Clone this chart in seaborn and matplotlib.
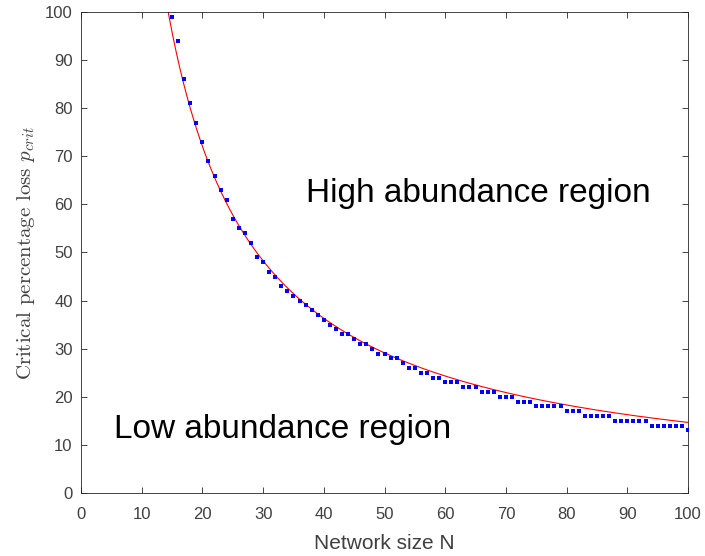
import numpy as np
import pandas as pd
import seaborn as sns
import matplotlib.pyplot as plt

# network size N and critical percentage loss
net_size = np.arange(15, 101)
p_crit = [99, 94, 86, 81, 77, 73, 69, 66, 63, 61, 57, 55, 54, 52,
          49, 48, 46, 45, 43, 42, 41, 40, 39, 38, 37, 36, 35, 34, 33, 33,
          32, 31, 31, 30, 29, 29, 28, 28, 27, 26, 26, 25, 25,
          24, 24, 23, 23, 23, 22, 22, 22, 21, 21, 21, 20, 20, 20,
          19, 19, 19, 18, 18, 18, 18, 18, 17, 17, 17,
          16, 16, 16, 16, 16, 15, 15, 15, 15, 15, 15,
          14, 14, 14, 14, 14, 14, 13]

# red fitted curve p = a * N^b, coefficients
fit_a = 1395.0
fit_b = -0.989

x_ticks = list(range(0, 101, 10))
y_ticks = list(range(0, 101, 10))

df = pd.DataFrame({'N': net_size, 'p': p_crit})
n_fine = np.linspace(12, 100, 600)
fit = pd.DataFrame({'N': n_fine, 'p': fit_a * n_fine ** fit_b})

sns.set_style('ticks')
plt.rcParams['font.family'] = ['Liberation Sans', 'DejaVu Sans']
plt.rcParams['mathtext.fontset'] = 'cm'

grey = '#262626'
fig = plt.figure(figsize=(7.05, 5.56), dpi=100)
ax = fig.add_axes([81 / 705, 63 / 556, 607 / 705, 481 / 556])

sns.lineplot(data=fit, x='N', y='p', color='red', linewidth=0.8, ax=ax)
sns.scatterplot(data=df, x='N', y='p', color='blue', marker='s', s=8,
                linewidth=0, ax=ax, zorder=3)

ax.set_xlim(0, 100)
ax.set_ylim(0, 100)
ax.set_xticks(x_ticks)
ax.set_yticks(y_ticks)
ax.tick_params(direction='in', length=4, width=0.6, colors=grey,
               labelsize=12, top=True, right=True)
ax.tick_params(axis='x', pad=10)
ax.tick_params(axis='y', pad=6)
for lab in ax.get_xticklabels() + ax.get_yticklabels():
    lab.set_color('#404040')
for sp in ax.spines.values():
    sp.set_visible(True)
    sp.set_linewidth(0.6)
    sp.set_color(grey)

ax.set_xlabel('Network size N', fontsize=15, color='#404040', labelpad=9)
ax.set_ylabel('Critical percentage loss $p_{crit}$', fontsize=15,
              family='cmr10', color='#404040', labelpad=6)

ax.text(37, 60.5, 'High abundance region', fontsize=24, color='black',
        va='baseline')
ax.text(5.4, 11.5, 'Low abundance region', fontsize=24, color='black',
        va='baseline')

fig.savefig('out.png', dpi=100)
